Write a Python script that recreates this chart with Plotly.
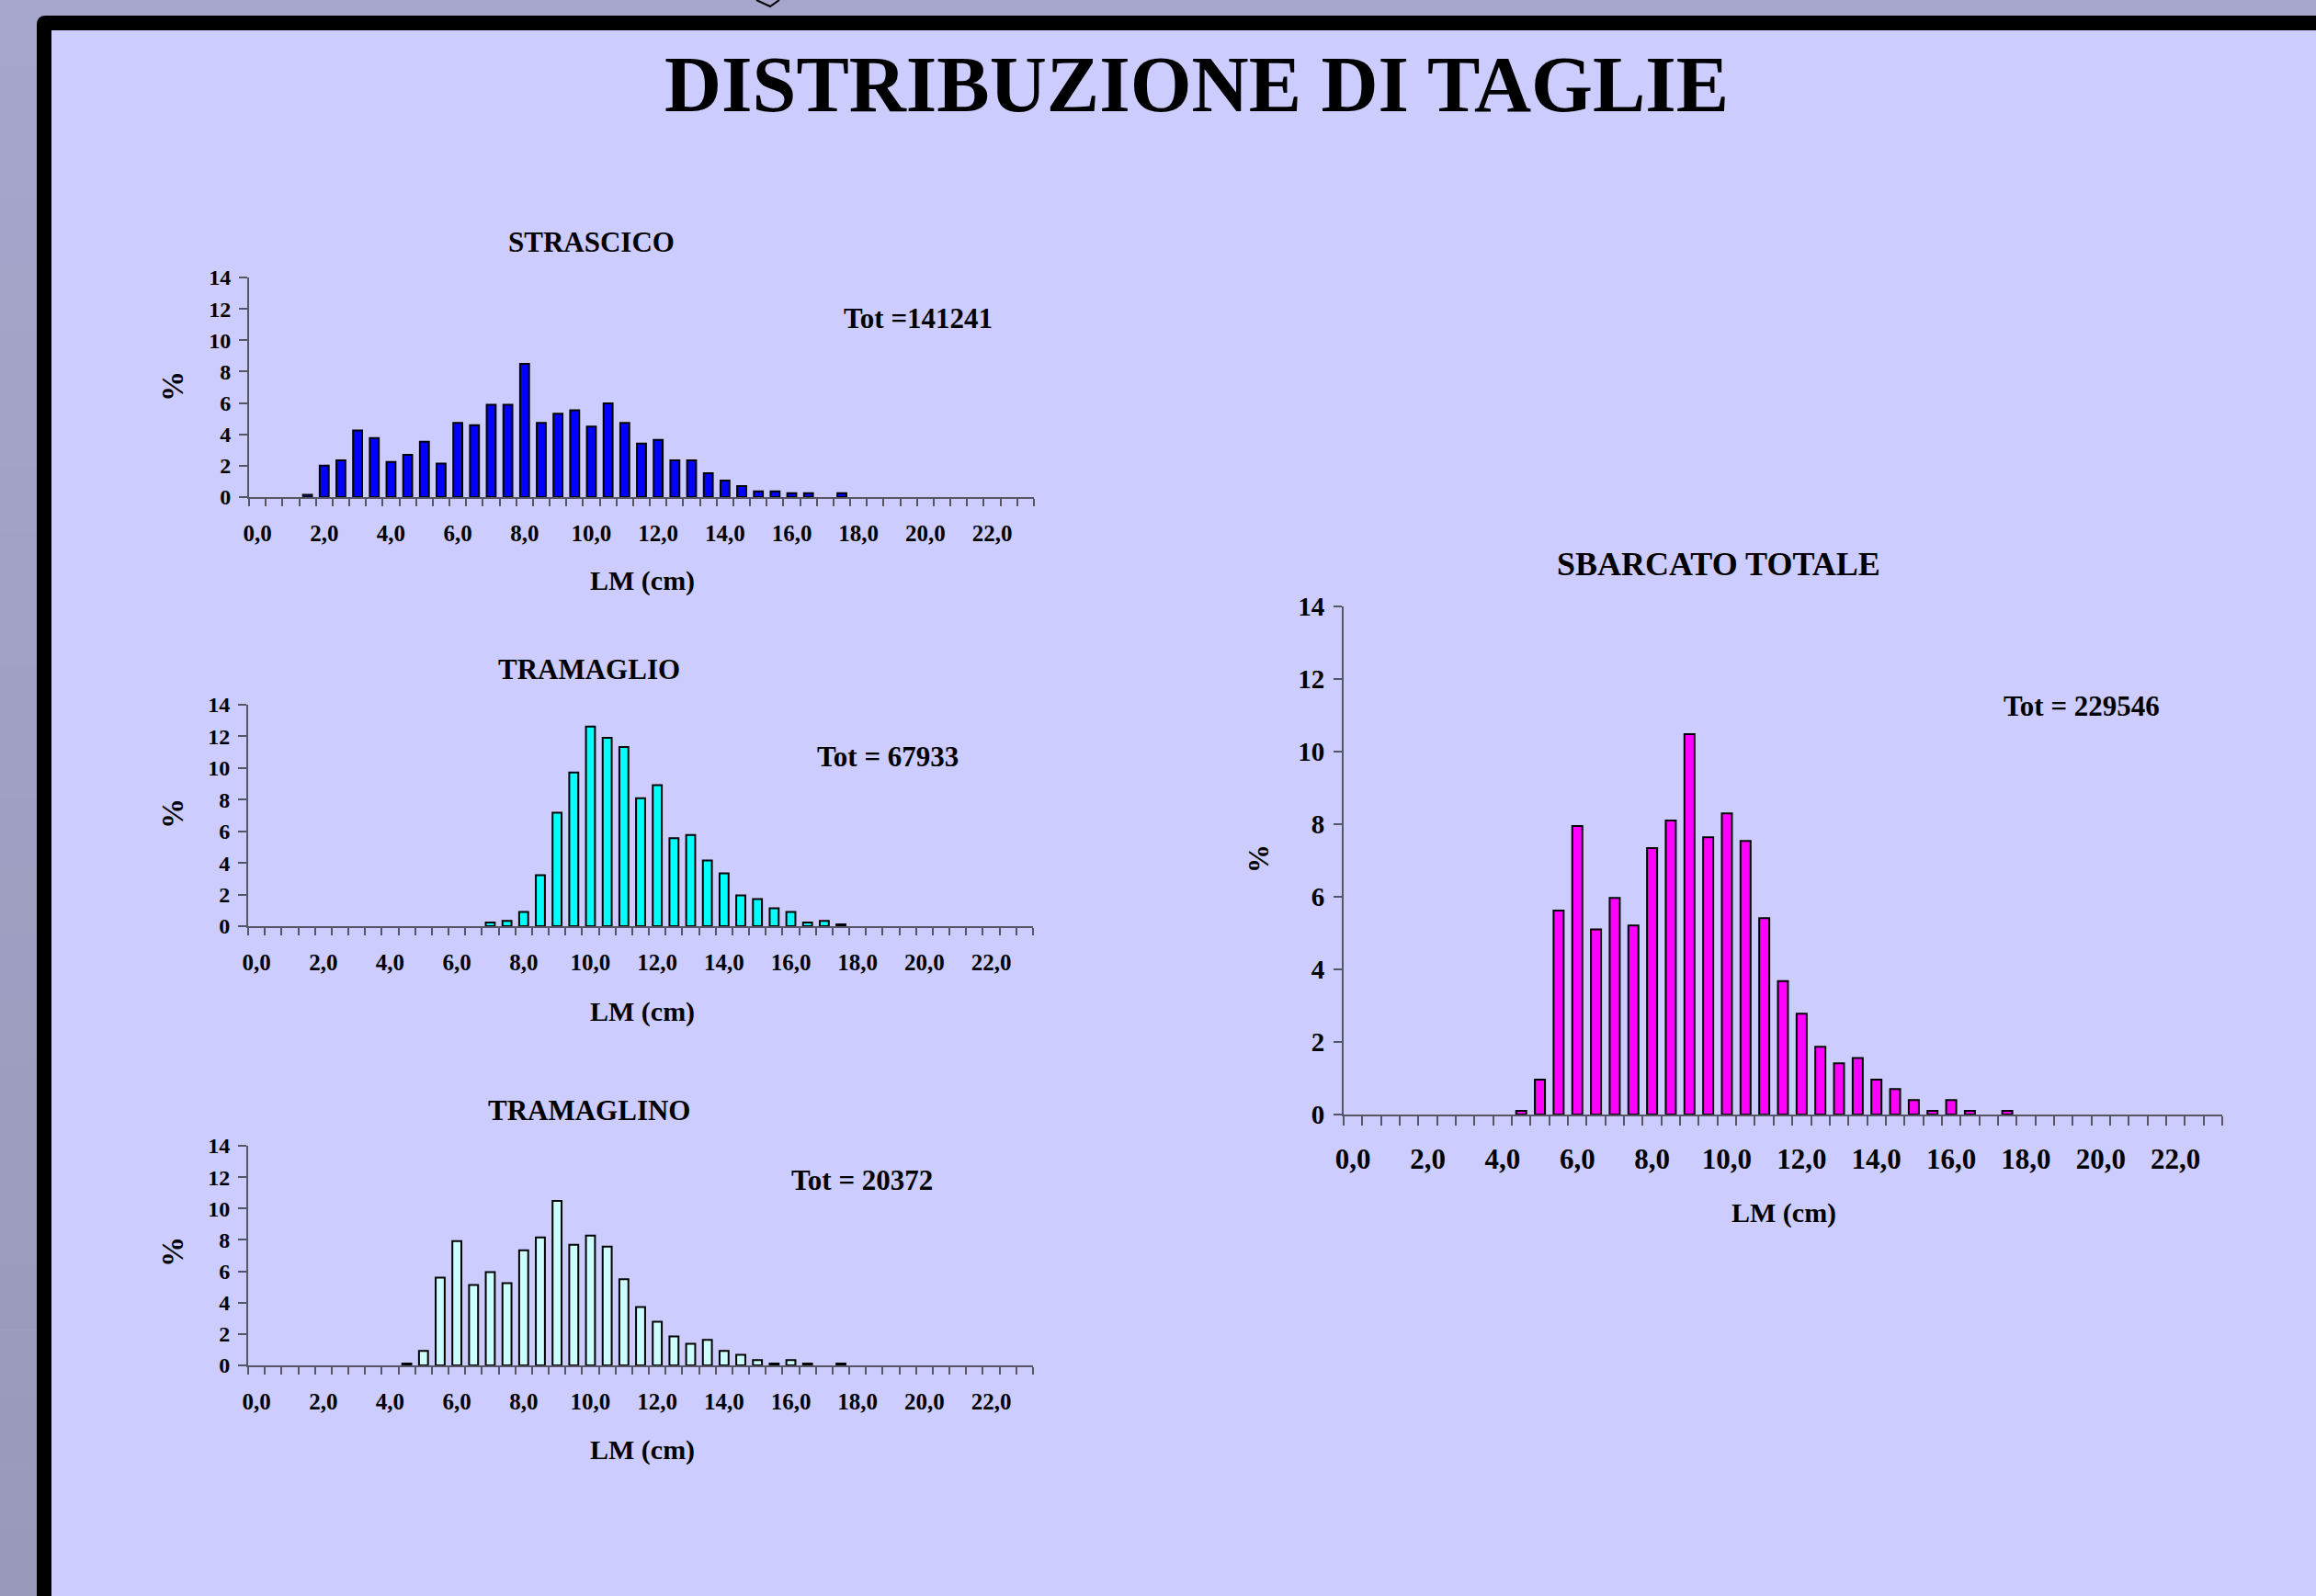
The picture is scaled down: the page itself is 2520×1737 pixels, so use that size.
import plotly.graph_objects as go

W, H = 2520, 1737

# ---------------- DATA ----------------
LM = [0.0, 0.5, 1.0, 1.5, 2.0, 2.5, 3.0, 3.5, 4.0, 4.5, 5.0, 5.5, 6.0, 6.5, 7.0, 7.5,
      8.0, 8.5, 9.0, 9.5, 10.0, 10.5, 11.0, 11.5, 12.0, 12.5, 13.0, 13.5, 14.0, 14.5,
      15.0, 15.5, 16.0, 16.5, 17.0, 17.5, 18.0, 18.5, 19.0, 19.5, 20.0, 20.5, 21.0,
      21.5, 22.0, 22.5, 23.0]

tick_vals = [0.0, 2.0, 4.0, 6.0, 8.0, 10.0, 12.0, 14.0, 16.0, 18.0, 20.0, 22.0]
tick_text = ["0,0", "2,0", "4,0", "6,0", "8,0", "10,0", "12,0", "14,0", "16,0",
             "18,0", "20,0", "22,0"]

strascico = [0, 0, 0, 0.15, 2.0, 2.35, 4.24, 3.76, 2.24, 2.7, 3.53, 2.14, 4.73, 4.59,
             5.88, 5.88, 8.49, 4.73, 5.31, 5.53, 4.49, 5.98, 4.73, 3.41, 3.65, 2.35,
             2.35, 1.53, 1.06, 0.7, 0.37, 0.37, 0.25, 0.25, 0, 0.25, 0, 0, 0, 0, 0, 0,
             0, 0, 0, 0, 0]

tramaglio = [0, 0, 0, 0, 0, 0, 0, 0, 0, 0, 0, 0, 0, 0, 0.23, 0.33, 0.9, 3.22, 7.18,
             9.71, 12.62, 11.91, 11.33, 8.09, 8.92, 5.56, 5.77, 4.15, 3.34, 1.95, 1.72,
             1.14, 0.9, 0.23, 0.33, 0.12, 0, 0, 0, 0, 0, 0, 0, 0, 0, 0, 0]

tramaglino = [0, 0, 0, 0, 0, 0, 0, 0, 0, 0.12, 0.92, 5.59, 7.92, 5.12, 5.94, 5.24,
              7.34, 8.16, 10.49, 7.69, 8.27, 7.57, 5.49, 3.72, 2.78, 1.85, 1.38, 1.62,
              0.92, 0.68, 0.33, 0.12, 0.33, 0.12, 0, 0.12, 0, 0, 0, 0, 0, 0, 0, 0, 0,
              0, 0]

sbarcato = [0, 0, 0, 0, 0, 0, 0, 0, 0, 0.1, 0.96, 5.62, 7.95, 5.10, 5.97, 5.21, 7.34,
            8.10, 10.48, 7.64, 8.30, 7.54, 5.41, 3.68, 2.78, 1.87, 1.41, 1.56, 0.96,
            0.70, 0.40, 0.1, 0.40, 0.1, 0, 0.1, 0, 0, 0, 0, 0, 0, 0, 0, 0, 0, 0]

totals = ["Tot =141241", "Tot = 67933", "Tot = 20372", "Tot = 229546"]
titles = ["STRASCICO", "TRAMAGLIO", "TRAMAGLINO", "SBARCATO TOTALE"]
main_title = "DISTRIBUZIONE DI TAGLIE"

# ---------------- HELPERS ----------------
def px(x):
    return x / W


def py(y):
    return 1 - y / H


FONT = "Liberation Serif, Times New Roman, serif"
AXIS_COL = "#555566"

fig = go.Figure()

panels = [
    dict(vals=strascico, color="#0000FF", x0=271, x1=1125, yb=541, yt=302,
         xts=25, yts=24, so=16, tpos=(643, 264), totpos=(999, 347), ppos=(188, 421),
         lmpos=(699, 632), tsz=31, psz=33),
    dict(vals=tramaglio, color="#00FFFF", x0=270, x1=1124, yb=1008, yt=767,
         xts=25, yts=24, so=16, tpos=(641, 728), totpos=(966, 823), ppos=(188, 886),
         lmpos=(699, 1101), tsz=31, psz=33),
    dict(vals=tramaglino, color="#CCFFFF", x0=270, x1=1124, yb=1486, yt=1247,
         xts=25, yts=24, so=16, tpos=(641, 1208), totpos=(938, 1284), ppos=(188, 1363),
         lmpos=(699, 1578), tsz=31, psz=33),
    dict(vals=sbarcato, color="#FF00FF", x0=1462, x1=2418, yb=1213, yt=660,
         xts=31, yts=29, so=20, tpos=(1870, 614), totpos=(2265, 768), ppos=(1369, 935),
         lmpos=(1941, 1320), tsz=36, psz=31),
]

annotations = []
minor_vals = [v - 0.25 for v in LM] + [LM[-1] + 0.25]

for i, p in enumerate(panels):
    n = "" if i == 0 else str(i + 1)
    xa, ya = "x" + n, "y" + n
    yvals = [v if v > 0 else None for v in p["vals"]]
    fig.add_trace(go.Bar(
        x=LM, y=yvals, xaxis=xa, yaxis=ya, width=0.27,
        marker=dict(color=p["color"], line=dict(color="black", width=2)),
        hoverinfo="x+y",
    ))
    fig.layout["xaxis" + n] = dict(
        domain=[px(p["x0"]), px(p["x1"])], anchor=ya, range=[-0.25, 23.25],
        tickmode="array", tickvals=tick_vals, ticktext=tick_text, ticks="",
        ticklabelstandoff=p["so"],
        tickfont=dict(family=FONT, size=p["xts"], color="black", weight="bold"),
        showline=True, linecolor=AXIS_COL, linewidth=2, showgrid=False, zeroline=False,
        minor=dict(tickmode="array", tickvals=minor_vals, ticks="outside",
                   ticklen=10 if i == 3 else 8, tickcolor=AXIS_COL, tickwidth=2,
                   showgrid=False),
        fixedrange=True, automargin=False,
    )
    fig.layout["yaxis" + n] = dict(
        domain=[py(p["yb"]), py(p["yt"])], anchor=xa, range=[0, 14],
        tickmode="linear", tick0=0, dtick=2, ticks="outside", ticklen=9,
        tickcolor=AXIS_COL, tickwidth=2, ticklabelstandoff=4,
        tickfont=dict(family=FONT, size=p["yts"], color="black", weight="bold"),
        showline=True, linecolor=AXIS_COL, linewidth=2, showgrid=False, zeroline=False,
        fixedrange=True, automargin=False,
    )
    for txt, pos, sz, ang in [
        (titles[i], p["tpos"], p["tsz"], 0),
        (totals[i], p["totpos"], 31, 0),
        ("%", p["ppos"], p["psz"], -90),
        ("LM (cm)", p["lmpos"], 30, 0),
    ]:
        annotations.append(dict(
            text=txt, x=px(pos[0]), y=py(pos[1]), xref="paper", yref="paper",
            xanchor="center", yanchor="middle", showarrow=False, textangle=ang,
            font=dict(family=FONT, size=sz, color="black", weight="bold"),
        ))

annotations.append(dict(
    text=main_title, x=px(1302), y=py(92), xref="paper", yref="paper",
    xanchor="center", yanchor="middle", showarrow=False,
    font=dict(family=FONT, size=86, color="black", weight="bold"),
))

# ---------------- BACKGROUND / FRAME ----------------
shapes = []
nb = 24
c0, c1 = (0xA6, 0xA6, 0xCC), (0x99, 0x99, 0xBB)
for k in range(nb):
    t = k / (nb - 1)
    col = "rgb(%d,%d,%d)" % tuple(round(a + (b - a) * t) for a, b in zip(c0, c1))
    shapes.append(dict(type="rect", xref="paper", yref="paper", layer="below",
                       x0=0, x1=px(41), y0=py(H * (k + 1) / nb), y1=py(H * k / nb),
                       fillcolor=col, line=dict(width=0)))
r = 10
path = "M %f,%f L %f,%f Q %f,%f %f,%f L %f,%f L %f,%f Z" % (
    px(40), 0, px(40), py(17 + r), px(40), py(17), px(40 + r), py(17),
    1, py(17), 1, 0)
shapes.append(dict(type="path", path=path, xref="paper", yref="paper", layer="below",
                   fillcolor="black", line=dict(width=0)))
shapes.append(dict(type="rect", xref="paper", yref="paper", layer="below",
                   x0=px(56), x1=1, y0=0, y1=py(33),
                   fillcolor="#CCCCFF", line=dict(width=0)))
shapes.append(dict(type="path", xref="paper", yref="paper",
                   path="M %f,%f L %f,%f L %f,%f" % (px(823), py(0), px(838), py(7),
                                                    px(848), py(0)),
                   line=dict(color="black", width=2)))

fig.update_layout(
    width=W, height=H, margin=dict(l=0, r=0, t=0, b=0, autoexpand=False),
    paper_bgcolor="#A6A6CC", plot_bgcolor="rgba(0,0,0,0)",
    showlegend=False, bargap=0.5,
    shapes=shapes, annotations=annotations,
)

fig.write_html(
    "out.html",
    config={"displayModeBar": False},
    post_script=("document.documentElement.style.margin='0';"
                 "document.documentElement.style.overflow='hidden';"
                 "document.documentElement.style.background='#CCCCFF';"
                 "document.body.style.margin='0';"
                 "document.body.style.padding='0';"
                 "document.body.style.overflow='hidden';"),
)
